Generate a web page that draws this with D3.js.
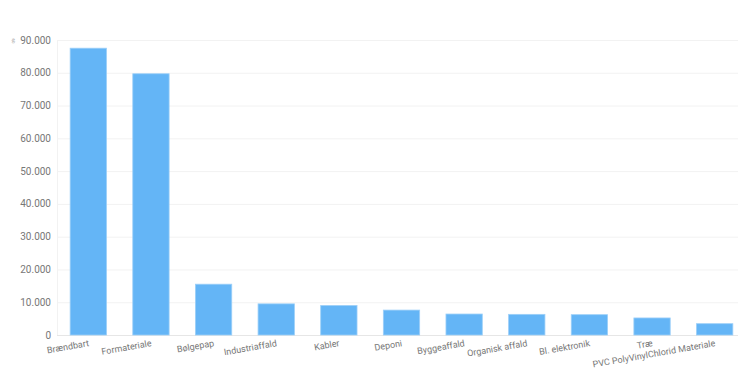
<!DOCTYPE html>
<html>
<head>
<meta charset="utf-8">
<script src="https://cdn.jsdelivr.net/npm/d3@7"></script>
<style>
body { margin: 0; padding: 0; overflow: hidden; background: #fff; }
text { font-family: Roboto, "Noto Sans", sans-serif; }
</style>
</head>
<body>
<script>
const categories = ["Brændbart", "Formateriale", "Bølgepap", "Industriaffald", "Kabler", "Deponi",
  "Byggeaffald", "Organisk affald", "Bl. elektronik", "Træ", "PVC PolyVinylChlorid Materiale"];
const values = [87500, 79700, 15500, 9500, 9000, 7600, 6400, 6300, 6200, 5200, 3450];
const yTicks = [0, 10000, 20000, 30000, 40000, 50000, 60000, 70000, 80000, 90000];

const width = 738, height = 380;
const plotLeft = 57, plotRight = 746, plotTop = 40, plotBottom = 335;

const svg = d3.select("body").append("svg").attr("width", width).attr("height", height);

const x = d3.scaleBand().domain(categories).range([plotLeft, plotRight]).paddingInner(0.42).paddingOuter(0.21);
const y = d3.scaleLinear().domain([0, 90000]).range([plotBottom, plotTop]);

const fmt = d => d3.format(",")(d).replace(/,/g, ".");

// grid
svg.append("g").selectAll("line").data(yTicks).join("line")
  .attr("x1", plotLeft).attr("x2", plotRight)
  .attr("y1", d => y(d) + 0.5).attr("y2", d => y(d) + 0.5)
  .attr("stroke", d => d === 0 ? "#e6e6e6" : "#f2f2f2");
svg.append("line").attr("x1", plotLeft + 0.5).attr("x2", plotLeft + 0.5).attr("y1", plotTop).attr("y2", plotBottom)
  .attr("stroke", "#f2f2f2");

// y axis labels
svg.append("g").selectAll("text").data(yTicks).join("text")
  .attr("x", plotLeft - 6).attr("y", d => y(d)).attr("dy", "0.35em")
  .attr("text-anchor", "end").attr("font-size", 10).attr("fill", "#777")
  .text(fmt);

svg.append("text").attr("x", 12).attr("y", 44).attr("font-size", 7).attr("fill", "#aaa")
  .attr("transform", "rotate(-20,12,44)").text("#");

// bars
svg.append("g").selectAll("rect").data(values).join("rect")
  .attr("x", (d, i) => x(categories[i]))
  .attr("width", x.bandwidth())
  .attr("y", d => y(d))
  .attr("height", d => y(0) - y(d))
  .attr("fill", "#64b5f6")
  .attr("stroke", "#9ccff8").attr("stroke-width", 0.8);

// x labels, rotated a little, right end at the tick
const angle = 10;
svg.append("g").selectAll("text").data(categories).join("text")
  .attr("text-anchor", "end").attr("font-size", 9).attr("fill", "#777")
  .attr("x", d => x(d) + x.bandwidth() / 2 + 1)
  .attr("y", plotBottom + 11)
  .attr("transform", d => `rotate(${-angle},${x(d) + x.bandwidth() / 2 + 1},${plotBottom + 11})`)
  .text(d => d);
</script>
</body>
</html>
